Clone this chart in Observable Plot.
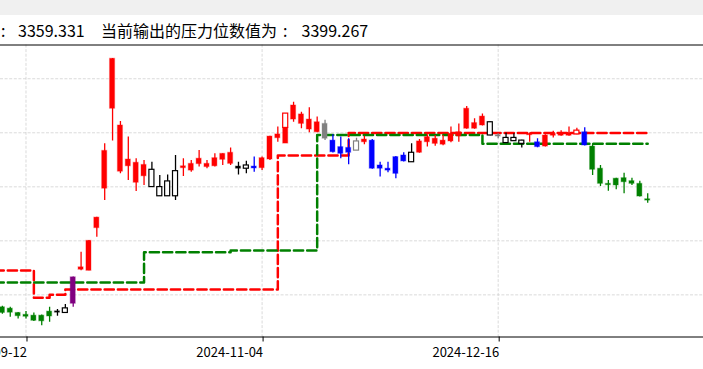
<!DOCTYPE html>
<html><head><meta charset="utf-8">
<script src="https://cdn.jsdelivr.net/npm/d3@7"></script>
<script src="https://cdn.jsdelivr.net/npm/@observablehq/plot@0.6"></script>
<style>
body{margin:0;width:703px;height:369px;overflow:hidden;background:#fff;position:relative;font-family:"Noto Sans CJK SC",sans-serif}
#band{position:absolute;left:0;top:0;width:703px;height:15px;background:#f0f0f0}
.t{position:absolute;top:22px;font-size:16px;line-height:16px;white-space:pre;color:#000}
#chart{position:absolute;left:0;top:40px}
</style></head><body>
<div id="band"></div>
<div id="title"><span class="t" style="left:1px">:</span><span class="t" style="left:14.5px"> 3359.331   </span><span class="t" style="left:101px">当前输出的压力位数值为</span><span class="t" style="left:283px">: </span><span class="t" style="left:298px"> 3399.267</span></div>
<div id="chart"></div>
<script>
const dates = ["2024-09-06","2024-09-09","2024-09-10","2024-09-11","2024-09-12","2024-09-13","2024-09-18","2024-09-19","2024-09-20","2024-09-23","2024-09-24","2024-09-25","2024-09-26","2024-09-27","2024-09-30","2024-10-08","2024-10-09","2024-10-10","2024-10-11","2024-10-14","2024-10-15","2024-10-16","2024-10-17","2024-10-18","2024-10-21","2024-10-22","2024-10-23","2024-10-24","2024-10-25","2024-10-28","2024-10-29","2024-10-30","2024-10-31","2024-11-01","2024-11-04","2024-11-05","2024-11-06","2024-11-07","2024-11-08","2024-11-11","2024-11-12","2024-11-13","2024-11-14","2024-11-15","2024-11-18","2024-11-19","2024-11-20","2024-11-21","2024-11-22","2024-11-25","2024-11-26","2024-11-27","2024-11-28","2024-11-29","2024-12-02","2024-12-03","2024-12-04","2024-12-05","2024-12-06","2024-12-09","2024-12-10","2024-12-11","2024-12-12","2024-12-13","2024-12-16","2024-12-17","2024-12-18","2024-12-19","2024-12-20","2024-12-23","2024-12-24","2024-12-25","2024-12-26","2024-12-27","2024-12-30","2024-12-31","2025-01-02","2025-01-03","2025-01-06","2025-01-07","2025-01-08","2025-01-09","2025-01-10","2025-01-13"];
const open  = [null,2754,2749,2733,2726,2723,2723,2738,2739,2733,2767,2893,2889,3047,3193,3489,3256,3276,3215,3239,3199,3165,3165,3165,3269,3260,3284,3273,3276,3300,3285,3275,3267,3275,3269,3301,3380,3360,3449,3433,3412,3402,3433,3371,3347,3344,3334,3365,3371,3279,3267,3310,3316,3291,3326,3365,3359,3356,3368,3387,3415,3415,3427,3390,3391,3362,3369,3359,3391,3365,3349,3389,3389,3389,3394,3402,3349,3267,3211,3230,3232,3221,3211,3154];
const high  = [null,2758,2754,2735,2738,2733,2725,2754,2746,2764,2866,2958,3001,3087,3359,3675,3442,3384,3304,3297,3291,3242,3244,3316,3304,3297,3334,3297,3322,3322,3344,3291,3295,3310,3310,3387,3421,3471,3513,3476,3493,3458,3446,3393,3384,3378,3380,3387,3375,3291,3291,3312,3326,3359,3375,3393,3390,3390,3421,3433,3497,3452,3470,3440,3396,3399,3396,3372,3399,3378,3393,3406,3408,3421,3417,3419,3359,3279,3223,3232,3250,3232,3221,3174];
const low   = [null,2728,2717,2711,2711,2701,2686,2699,2721,2733,2754,2889,2889,3013,3149,3370,3248,3223,3183,3205,3199,3165,3165,3149,3238,3254,3273,3267,3273,3279,3279,3244,3248,3254,3260,3297,3365,3360,3439,3415,3400,3400,3371,3325,3304,3282,3334,3356,3265,3236,3252,3230,3292,3291,3324,3347,3350,3352,3363,3365,3413,3413,3425,3389,3378,3361,3368,3344,3365,3345,3347,3381,3387,3387,3393,3351,3242,3201,3184,3189,3174,3205,3162,3139];
const close = [null,2733,2734,2721,2719,2704,2702,2720,2734,2750,2865,2902,3000,3086,3333,3674,3427,3301,3289,3281,3263,3199,3220,3258,3276,3285,3304,3285,3306,3322,3326,3267,3279,3268,3306,3386,3394,3418,3501,3468,3449,3439,3378,3328,3322,3326,3368,3375,3267,3267,3260,3248,3294,3326,3368,3384,3378,3371,3396,3402,3489,3436,3460,3439,3386,3381,3381,3371,3396,3347,3390,3396,3396,3399,3408,3353,3263,3211,3206,3205,3217,3211,3164,3149];
// signal class of each candle: R red, G green, B blue, P purple, K black, Y grey
const signal = [null,"G","G","G","G","G","G","G","K","K","P","R","R","R","R","R","R","R","R","R","K","K","K","K","R","R","R","R","R","R","R","K","K","B","R","R","R","R","R","R","R","R","Y","B","B","B","Y","R","B","B","B","B","B","K","R","R","R","R","R","R","R","R","R","K","Y","K","K","K","R","B","R","R","R","R","R","B","G","G","G","G","G","G","G","G"];
// 1 = hollow body
const hollow = [0,0,0,0,0,0,0,0,0,1,0,0,0,0,0,0,0,0,0,0,1,1,1,1,0,0,0,0,0,0,0,0,1,0,0,0,0,0,0,0,0,0,0,0,0,0,1,0,0,0,0,0,0,1,0,0,0,0,0,0,0,0,0,1,0,1,1,1,0,0,0,0,0,0,1,0,0,0,0,0,0,0,0,0];
// extra hollow body drawn over one session
const overlayDates = ["2024-11-07"];
const overlayLow = [3418];
const overlayHigh = [3471];
const overlaySignal = ["R"];
const support    = [2846,2846,2846,2846,2846,2846,2846,2846,2846,2846,2846,2846,2846,2846,2846,2846,2846,2846,2846,2958,2958,2958,2958,2958,2958,2958,2958,2958,2958,2958,2964,2964,2964,2964,2964,2964,2964,2964,2964,2964,2964,3392,3392,3392,3392,3392,3392,3392,3392,3392,3392,3392,3392,3392,3392,3392,3392,3392,3392,3392,3392,3392,3359.331,3359.331,3359.331,3359.331,3359.331,3359.331,3359.331,3359.331,3359.331,3359.331,3359.331,3359.331,3359.331,3359.331,3359.331,3359.331,3359.331,3359.331,3359.331,3359.331,3359.331,3359.331];
const resistance = [2890,2890,2890,2890,2890,2789,2789,2800,2800,2820,2820,2820,2820,2820,2820,2820,2820,2820,2820,2820,2820,2820,2820,2820,2820,2820,2820,2820,2820,2820,2820,2820,2820,2820,2820,2820,3316,3316,3316,3316,3316,3316,3316,3316,3316,3399.267,3399.267,3399.267,3399.267,3399.267,3399.267,3399.267,3399.267,3399.267,3399.267,3399.267,3399.267,3399.267,3399.267,3399.267,3399.267,3399.267,3399.267,3399.267,3399.267,3399.267,3399.267,3399.267,3399.267,3399.267,3399.267,3399.267,3399.267,3399.267,3399.267,3399.267,3399.267,3399.267,3399.267,3399.267,3399.267,3399.267,3399.267,3399.267];
const yGrid = [2800,3000,3200,3400,3600];
const tickDates = ["2024-09-12","2024-11-04","2024-12-16"];

const rows = dates.map((d,i)=>({i,date:d,open:open[i],high:high[i],low:low[i],close:close[i],signal:signal[i],hollow:hollow[i],sup:support[i],res:resistance[i]}));
const candles = rows.filter(d=>d.open!=null);
const overlay = overlayDates.map((d,j)=>({i:dates.indexOf(d),lo:overlayLow[j],hi:overlayHigh[j],signal:overlaySignal[j]}));
const tickIdx = tickDates.map(t=>dates.indexOf(t));
const yDom = [2644,3725];
const hw = 0.32;
const grid = {stroke:"#d0d0d0", strokeWidth:0.8, strokeDasharray:"3,1.6"};

const chart = Plot.plot({
  width:703, height:329, marginTop:4.5, marginBottom:32.5, marginLeft:0, marginRight:0,
  style:{fontFamily:"'Noto Sans CJK SC', sans-serif", background:"transparent", overflow:"visible"},
  x:{type:"linear", domain:[0.760,90.09], axis:null},
  y:{domain:yDom, axis:null},
  color:{domain:["R","G","B","P","K","Y"], range:["#ff0000","#008000","#0000ff","#800080","#000000","#808080"]},
  marks:[
    Plot.ruleY(yGrid, grid),
    Plot.ruleX(tickIdx, grid),
    Plot.line(rows,{x:"i",y:"res",curve:"step-after",stroke:"#ff0000",strokeWidth:2.5,strokeDasharray:"9.25,4",clip:true}),
    Plot.line(rows,{x:"i",y:"sup",curve:"step-after",stroke:"#008000",strokeWidth:2.5,strokeDasharray:"9.25,4",clip:true}),
    Plot.ruleX(candles,{x:"i",y1:"low",y2:"high",stroke:"signal",strokeWidth:1.3,clip:true}),
    Plot.rect(candles.filter(d=>!d.hollow),{x1:d=>d.i-hw,x2:d=>d.i+hw,y1:"open",y2:"close",fill:"signal",stroke:"signal",strokeOpacity:0.3,strokeWidth:1.2,clip:true}),
    Plot.rect(candles.filter(d=>d.hollow),{x1:d=>d.i-hw,x2:d=>d.i+hw,y1:"open",y2:"close",fill:"white",stroke:"signal",strokeWidth:1.2,clip:true}),
    Plot.rect(overlay,{x1:d=>d.i-hw,x2:d=>d.i+hw,y1:"lo",y2:"hi",fill:"white",stroke:"signal",strokeWidth:1.2,clip:true}),
    Plot.ruleY([yDom[1]],{stroke:"#000",strokeWidth:1}),
    Plot.ruleY([yDom[0]],{stroke:"#000",strokeWidth:1}),
    Plot.axisX({ticks:tickIdx,tickFormat:i=>dates[i],tickSize:5,tickPadding:6,fontSize:13,label:null,stroke:"#000",fill:"#000",textAnchor:"end",dx:1})
  ]
});
document.getElementById("chart").appendChild(chart);
</script>
</body></html>
